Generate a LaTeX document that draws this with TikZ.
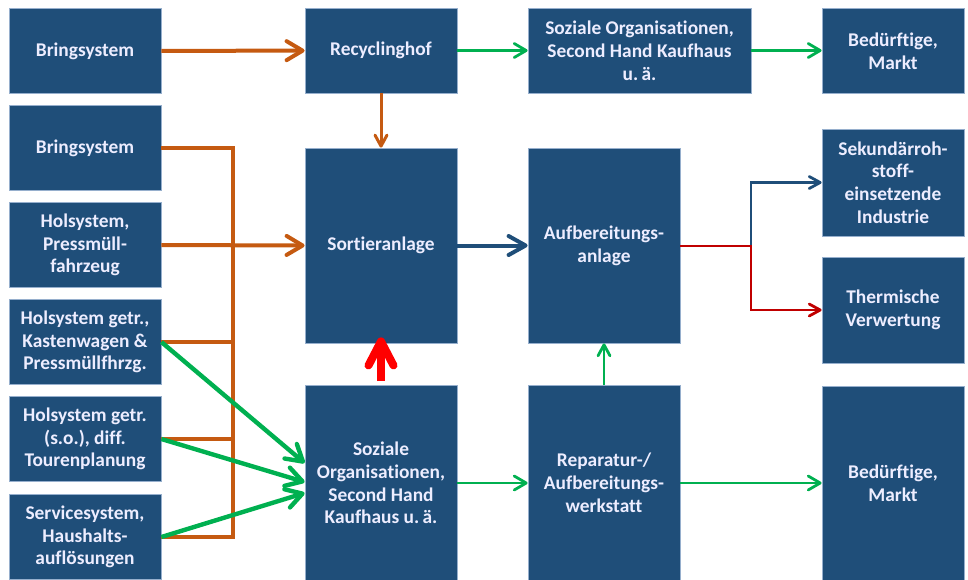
\documentclass[tikz,border=0pt]{standalone}
\usepackage{fontspec}
\setmainfont{Carlito}[RawFeature=-liga]
\usetikzlibrary{arrows.meta,calc}

\definecolor{boxblue}{RGB}{31,78,121}
\definecolor{boxline}{RGB}{150,175,205}
\definecolor{cporange}{RGB}{197,90,17}
\definecolor{cpgreen}{RGB}{0,176,80}
\definecolor{cpred}{RGB}{192,0,0}
\definecolor{cpbrightred}{RGB}{255,0,0}

\tikzset{
  box/.style={rectangle, fill=boxblue, draw=boxline, line width=0.4pt,
    text=white!93!blue, align=center, inner sep=2pt,
    font=\fontsize{9.7}{11.4}\selectfont\bfseries},
  smallbox/.style={box, minimum width=76pt, minimum height=42.5pt},
  tallbox/.style={box, minimum width=76pt, minimum height=97.5pt},
  widebox/.style={box, minimum width=111.5pt, minimum height=42.5pt},
  sidebox/.style={box, minimum width=71pt, minimum height=#1},
  orangeflow/.style={draw=cporange, line width=2pt},
  orangearrow/.style={orangeflow, -{Straight Barb[length=8pt,width=9.5pt,round]}},
  greenarrow/.style={draw=cpgreen, line width=1.4pt, -{Straight Barb[length=6pt,width=7pt,round]}},
  greenthick/.style={draw=cpgreen, line width=2.2pt, -{Straight Barb[length=8pt,width=9.5pt,round]}},
  bluearrow/.style={draw=boxblue, line width=2pt, -{Straight Barb[length=8.5pt,width=9.5pt,round]}},
  thinarrow/.style={line width=1.4pt, -{Straight Barb[length=5.5pt,width=6pt,round]}}
}

\begin{document}
\begin{tikzpicture}[x=0.5pt, y=-0.5pt]
  \useasboundingbox (0,0) rectangle (968,579);

  % collection systems
  \node[smallbox] (bring1) at (85,51) {Bringsystem};
  \node[smallbox] (bring2) at (85,148) {Bringsystem};
  \node[smallbox] (hol1) at (85,245) {Holsystem,\\Pressmüll-\\fahrzeug};
  \node[smallbox] (hol2) at (85,342) {Holsystem getr.,\\Kastenwagen \&\\Pressmüllfhrzg.};
  \node[smallbox] (hol3) at (85,439) {Holsystem getr.\\(s.o.), diff.\\Tourenplanung};
  \node[smallbox] (service) at (85,537) {Servicesystem,\\Haushalts-\\auflösungen};

  % middle
  \node[smallbox] (recyc) at (381,50.5) {Recyclinghof};
  \node[tallbox] (sort) at (381,245.5) {Sortieranlage};
  \node[tallbox] (sozlow) at (381,483) {Soziale\\Organisationen,\\Second Hand\\Kaufhaus u.\,ä.};
  \node[widebox] (sozup) at (639.5,50.5) {Soziale Organisationen,\\Second Hand Kaufhaus\\u.\,ä.};
  \node[tallbox] (aufb) at (604,245.5) {Aufbereitungs-\\anlage};
  \node[tallbox] (rep) at (604,483) {Reparatur-/\\Aufbereitungs-\\werkstatt};

  % right
  \node[sidebox=42.5pt] (bed1) at (893,51) {Bedürftige,\\Markt};
  \node[sidebox=53.5pt] (sek) at (893,182.5) {Sekundärroh-\\stoff-\\einsetzende\\Industrie};
  \node[sidebox=53pt] (therm) at (893,310) {Thermische\\Verwertung};
  \node[sidebox=97pt] (bed2) at (893,483) {Bedürftige,\\Markt};

  % orange collection lines
  \coordinate (busbot) at (233,537);
  \draw[orangearrow] (bring1) -- (recyc);
  \draw[orangeflow] (bring2.east) -| (busbot) -- (service.east);
  \draw[orangeflow] (hol2.east) -- (hol2.east -| busbot);
  \draw[orangeflow] (hol3.east) -- (hol3.east -| busbot);
  \draw[orangearrow] (hol1.east) -- (sort.west);
  \draw[orangearrow, line width=1.5pt, -{Straight Barb[length=5.5pt,width=6pt,round]}] (recyc) -- (sort);

  % green collection lines
  \draw[greenthick] (hol2.east) -- ($(sozlow.west)+(0,-20)$);
  \draw[greenthick] (hol3.east) -- ($(sozlow.west)+(0,-1)$);
  \draw[greenthick] (service.east) -- ($(sozlow.west)+(0,10)$);

  % reuse
  \draw[greenarrow] (recyc) -- (sozup);
  \draw[greenarrow] (sozup) -- (bed1.west |- sozup.east);
  \draw[greenarrow] (sozlow) -- (rep);
  \draw[greenarrow] (rep) -- (bed2);
  \draw[thinarrow, cpgreen] (rep) -- (aufb);
  \draw[cpbrightred, line width=4pt, shorten <=2pt, shorten >=-3pt,
    -{Straight Barb[length=12pt,width=12.5pt,round]}] (sozlow.north) -- (sort.south);

  % processing
  \draw[bluearrow] (sort) -- (aufb);
  \coordinate (split) at (751,246);
  \draw[thinarrow, boxblue] (split) |- (sek.west);
  \draw[thinarrow, cpred] (aufb.east |- split) -- (split) |- (therm.west);
\end{tikzpicture}
\end{document}
